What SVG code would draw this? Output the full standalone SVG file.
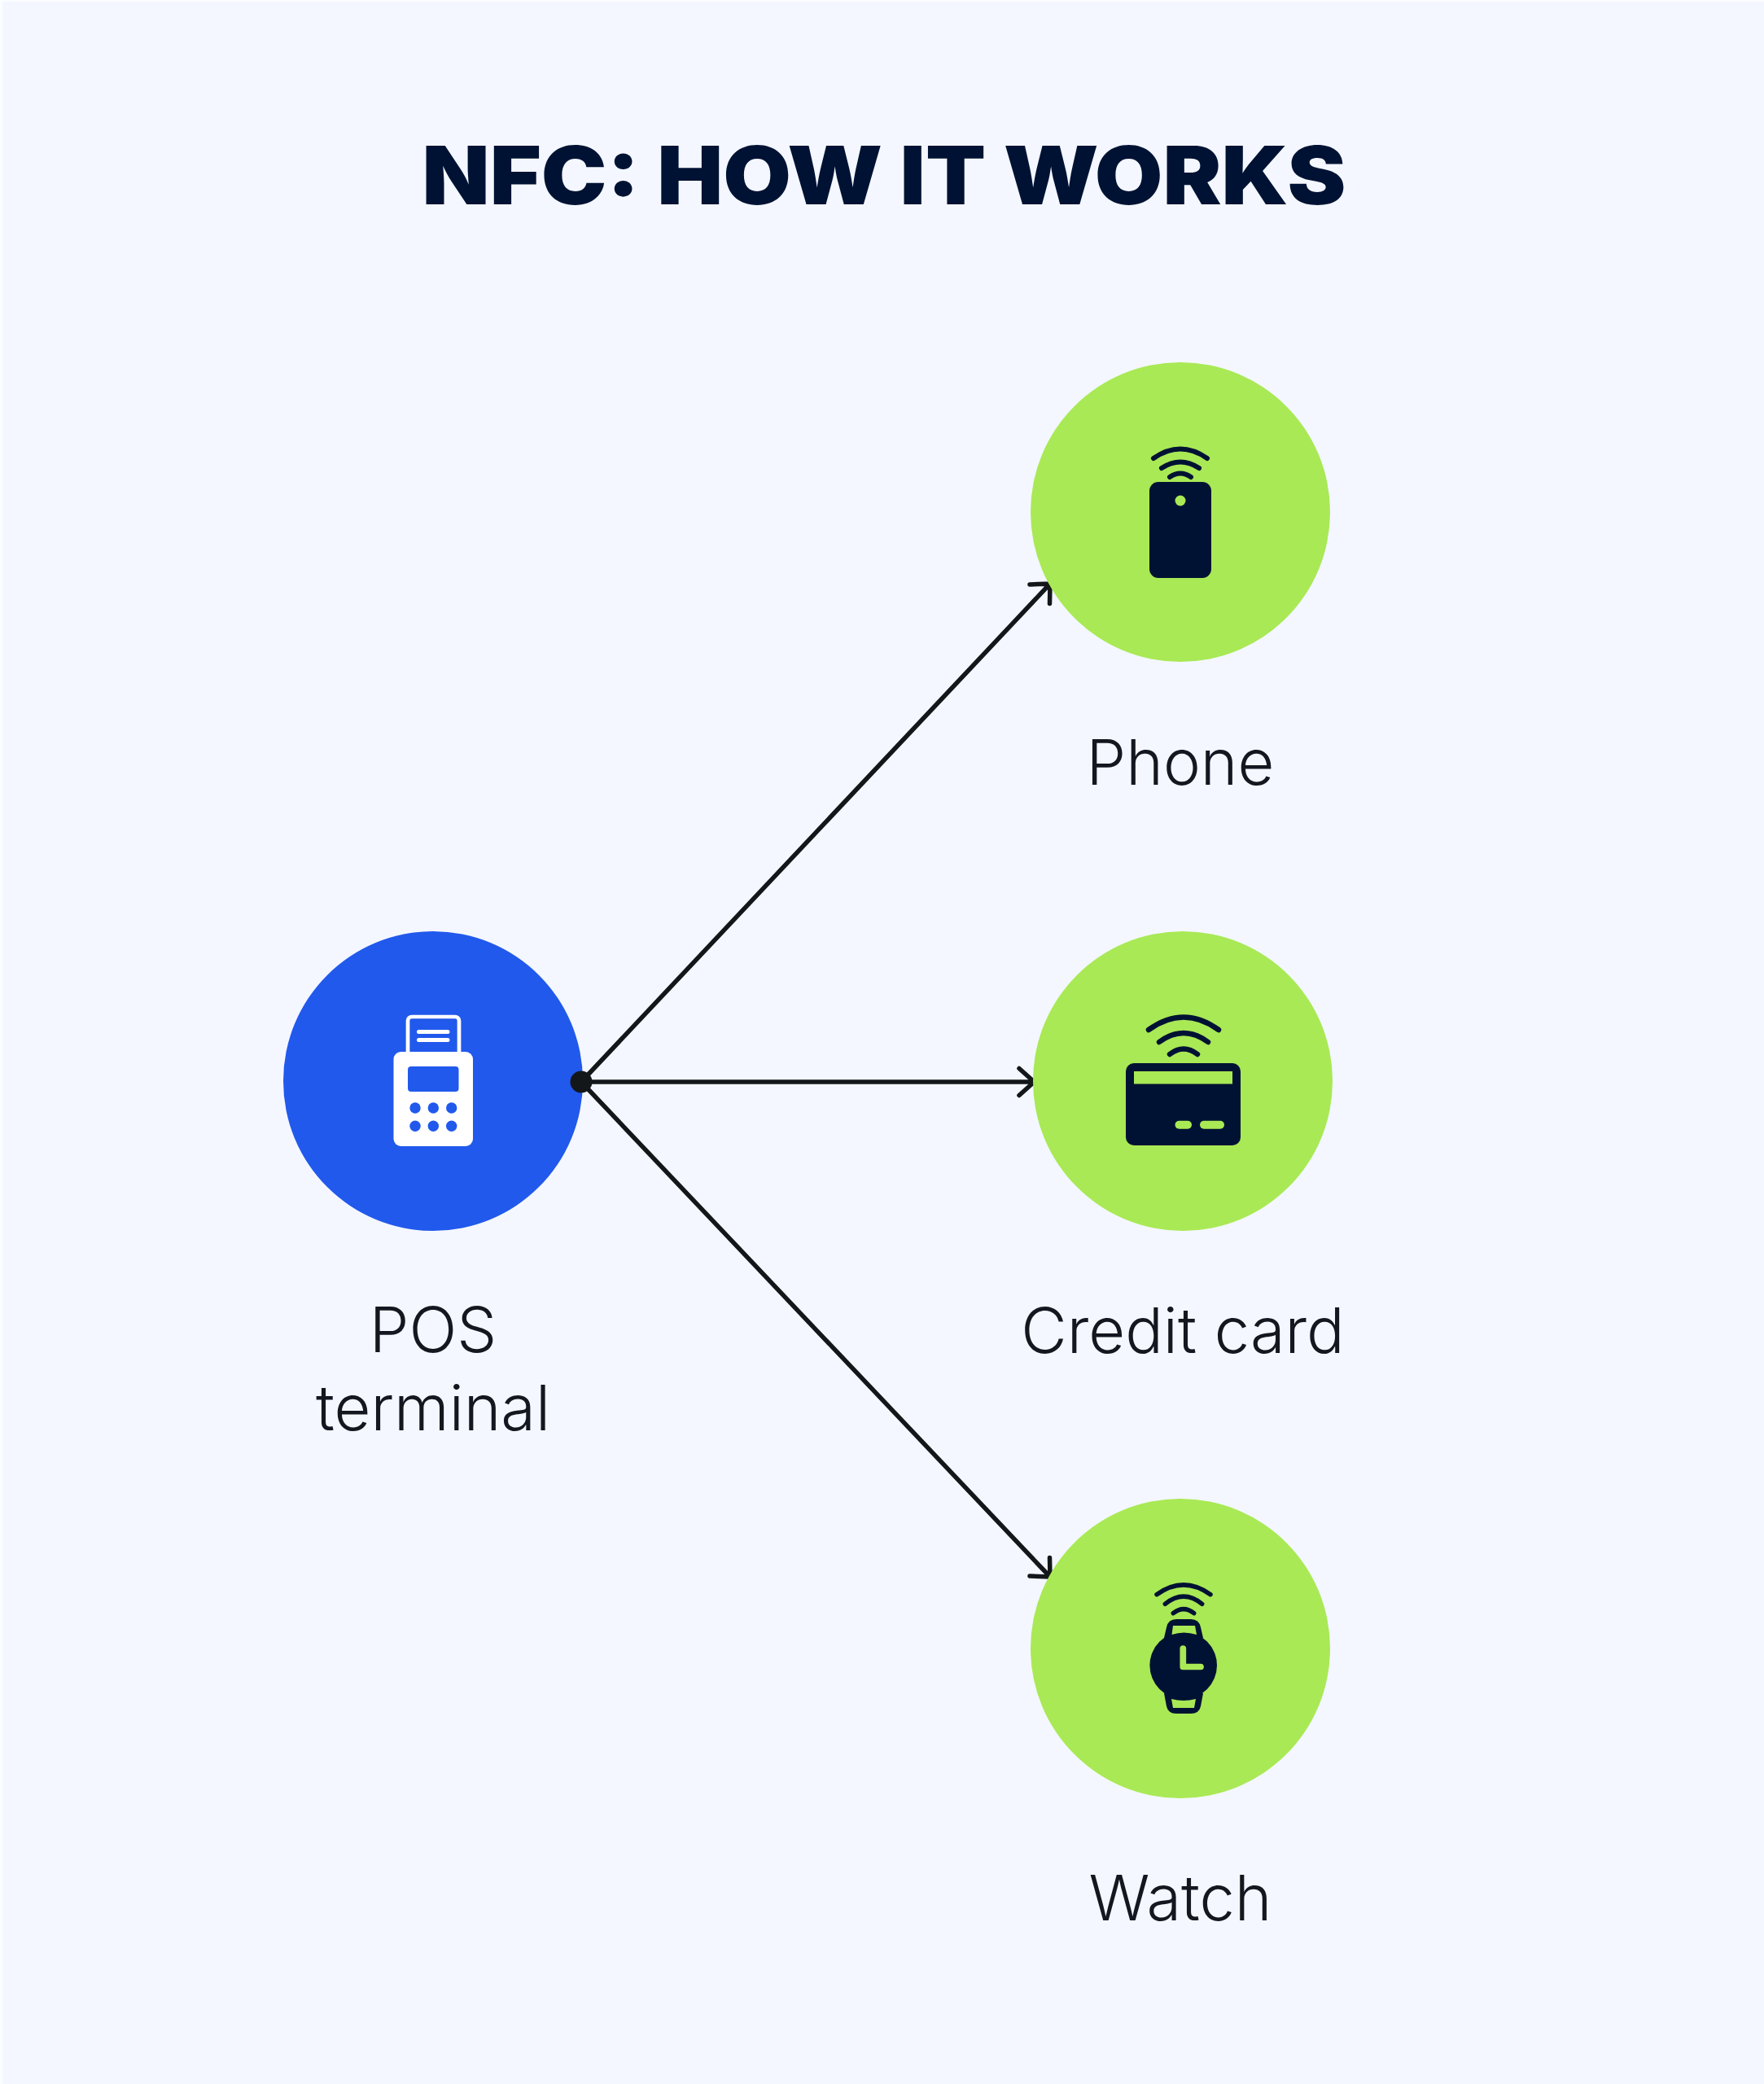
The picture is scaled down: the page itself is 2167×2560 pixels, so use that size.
<svg xmlns="http://www.w3.org/2000/svg" width="2167" height="2560" viewBox="0 0 2167 2560">
<style>
.title{font-family:Inter,"Liberation Sans",sans-serif;font-weight:900;font-size:99px;fill:#001233;text-anchor:middle}
.label{font-family:Inter,"Liberation Sans",sans-serif;font-weight:300;font-size:77.500px;fill:#14171f;text-anchor:middle}
.wave{fill:none;stroke:#001233;stroke-linecap:round}
.conn{fill:none;stroke:#14171a;stroke-width:5.500;stroke-linecap:round;stroke-linejoin:round}
.dark{fill:#001233}.lime{fill:#a9e955}.blue{fill:#2159ec}
</style>
<rect width="2167" height="2560" fill="#fbfdff"/>
<rect x="3" y="2" width="2164" height="2558" fill="#f4f7ff"/>
<text class="title" x="1086" y="251" textLength="1135" lengthAdjust="spacingAndGlyphs">NFC: HOW IT WORKS</text>
<g id="connectors">
<path class="conn" d="M714 1329L1290 717M1265 718L1290 717L1289.500 741.500"/>
<path class="conn" d="M714 1329H1270.500M1252 1312.500L1270.500 1329L1252 1345.500"/>
<path class="conn" d="M714 1329L1290 1937M1265 1936L1290 1937L1289.500 1913.500"/>
</g>
<g id="node-pos">
<circle class="blue" cx="532" cy="1328" r="184"/>
<circle cx="714" cy="1329" r="13.500" fill="#14171a"/>
<path d="M501 1295V1254a5 5 0 0 1 5-5H559a5 5 0 0 1 5 5V1295" fill="none" stroke="#fff" stroke-width="4.700"/>
<path d="M514.500 1267.500H550M514.500 1277.500H550" fill="none" stroke="#fff" stroke-width="5" stroke-linecap="round"/>
<rect x="483.500" y="1292" width="97.500" height="116" rx="9" fill="#fff"/>
<rect class="blue" x="501" y="1310" width="62.500" height="31" rx="4"/>
<g class="blue"><circle cx="510" cy="1361" r="6.700"/><circle cx="532.300" cy="1361" r="6.700"/><circle cx="554.700" cy="1361" r="6.700"/><circle cx="510" cy="1383.300" r="6.700"/><circle cx="532.300" cy="1383.300" r="6.700"/><circle cx="554.700" cy="1383.300" r="6.700"/></g>
<text class="label" x="532" y="1661">POS</text>
<text class="label" x="532" y="1757">terminal</text>
</g>
<g id="node-phone">
<circle class="lime" cx="1450" cy="629" r="184"/>
<path class="wave" stroke-width="6" d="M1417 563Q1450 540 1483 563M1427 575Q1450 560 1473 575M1437 586Q1450 577 1463 586"/>
<rect class="dark" x="1412" y="592" width="76" height="118" rx="11"/>
<circle class="lime" cx="1450" cy="615" r="6.500"/>
<text class="label" x="1450" y="964">Phone</text>
</g>
<g id="node-card">
<circle class="lime" cx="1453" cy="1328" r="184"/>
<path class="wave" stroke-width="6.500" d="M1411 1265Q1454 1234 1497 1265M1424 1280Q1454 1258 1484 1280M1437 1295Q1454 1282 1471 1295"/>
<rect class="dark" x="1383" y="1306" width="141" height="101" rx="10"/>
<rect class="lime" x="1393" y="1316" width="121" height="15.500"/>
<rect class="lime" x="1443.500" y="1376.700" width="20.500" height="10" rx="5"/>
<rect class="lime" x="1474" y="1376.700" width="30" height="10" rx="5"/>
<text class="label" x="1453" y="1662">Credit card</text>
</g>
<g id="node-watch">
<circle class="lime" cx="1450" cy="2025" r="184"/>
<path class="wave" stroke-width="5.500" d="M1421 1958.700Q1454 1935 1487 1958.700M1431.300 1970.300Q1454 1952 1476.700 1970.300M1441.300 1981.700Q1454 1971.500 1466.700 1981.700"/>
<path class="dark" d="M1430 2012L1433 1999Q1435 1989 1445 1989H1463Q1473 1989 1475 1999L1478 2012Z"/>
<path class="dark" d="M1430 2080L1433 2096Q1435 2105 1445 2105H1463Q1473 2105 1475 2096L1478 2080Z"/>
<circle class="dark" cx="1453.700" cy="2045.700" r="41.300"/>
<path class="lime" d="M1441 1997H1468L1470 2008Q1454 2003 1439.500 2008Z"/>
<path class="lime" d="M1439 2087Q1454 2091 1469 2087L1467 2098H1441Z"/>
<path d="M1453.300 2025V2047.500H1475" fill="none" stroke="#a9e955" stroke-width="7.700" stroke-linecap="round" stroke-linejoin="round"/>
<text class="label" x="1450" y="2359">Watch</text>
</g>
</svg>
